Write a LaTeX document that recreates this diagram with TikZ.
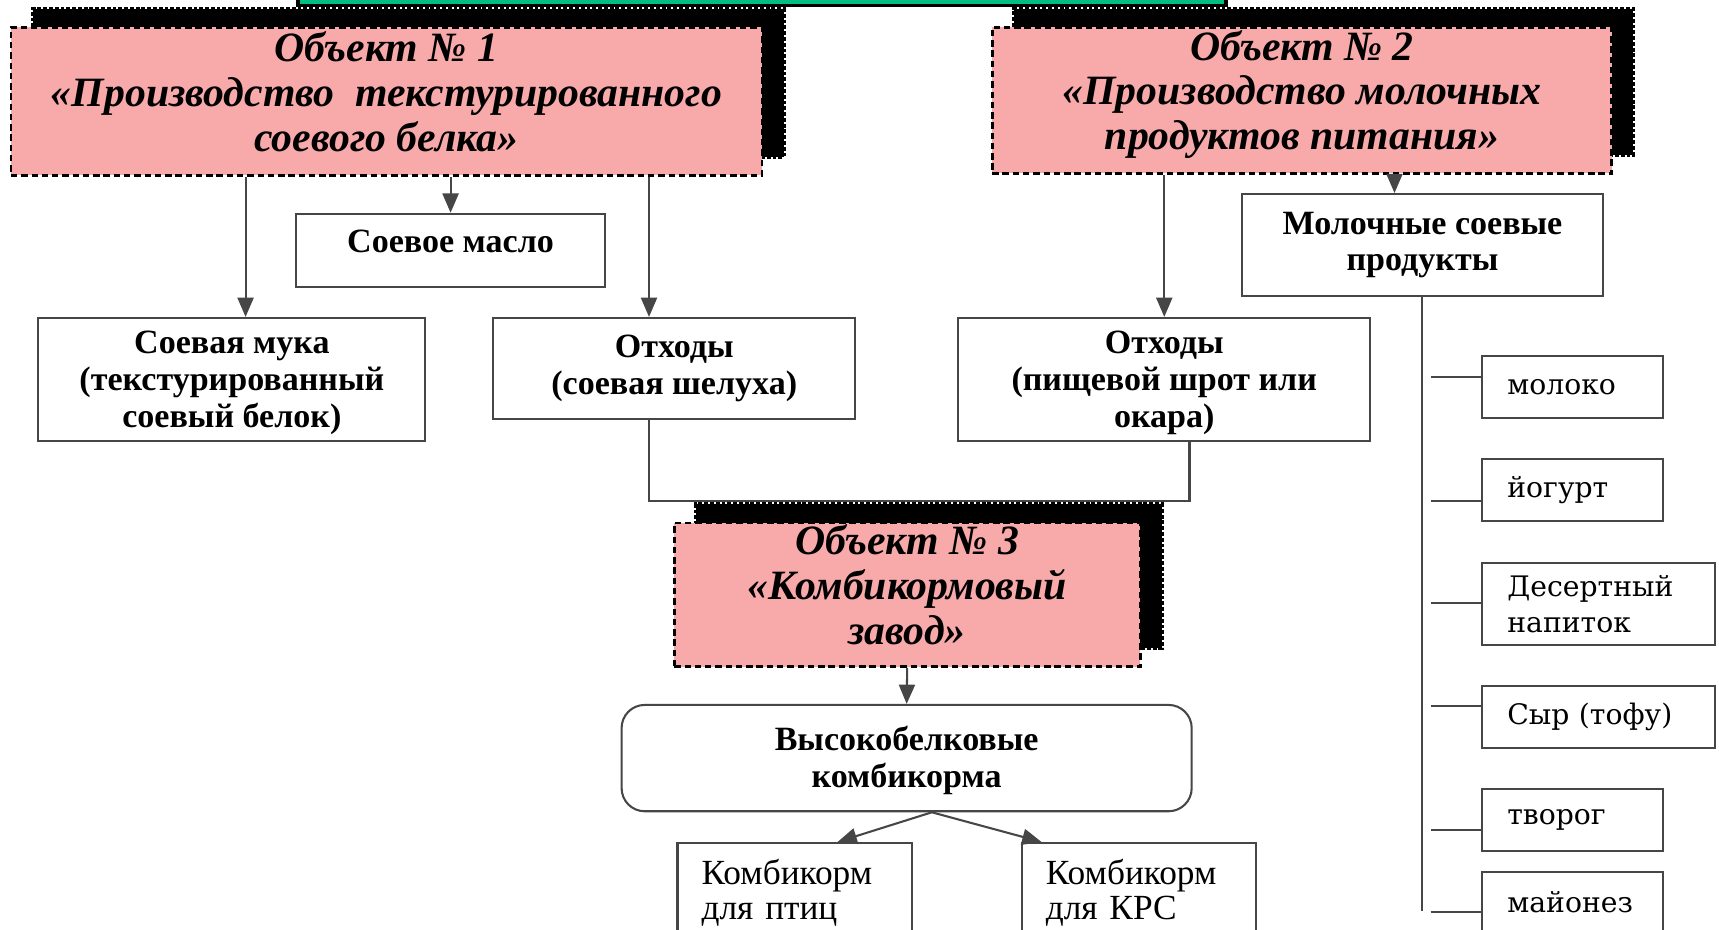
\documentclass[tikz,border=0pt]{standalone}
\usepackage{fontspec}
\setmainfont{Liberation Serif}
\newfontfamily\slabfont{DejaVu Serif}
\usetikzlibrary{arrows.meta,shadows}
\definecolor{objpink}{RGB}{248,170,170}
\definecolor{topgreen}{RGB}{0,190,130}
\definecolor{boxline}{RGB}{70,70,70}
\newlength\vpx
\setlength\vpx{0.3mm}
\tikzset{
  obj/.style={draw=black, line width=2.2pt, dash pattern=on 5pt off 3pt,
    fill=objpink, align=center, inner sep=0pt, text depth=16pt,
    font=\bfseries\itshape\fontsize{32.5}{35}\selectfont,
    drop shadow={shadow xshift=17pt, shadow yshift=14.5pt, fill=black,
      opacity=1, draw=black, line width=3pt, dash pattern=on 3pt off 1.5pt}},
  prod/.style={draw=boxline, line width=1.6pt, fill=white, align=center,
    font=\bfseries\fontsize{26.5}{28.5}\selectfont, inner sep=0pt},
  item/.style={draw=boxline, line width=1.6pt, fill=white, align=left,
    anchor=west, text width=#1, minimum height=56\vpx,
    font=\slabfont\fontsize{22}{28}\selectfont, inner xsep=23\vpx, inner ysep=0pt},
  item/.default={119\vpx},
  feedbox/.style={draw=boxline, line width=1.6pt, fill=white, align=left,
    anchor=north, text width=170\vpx, text depth=60\vpx,
    font=\fontsize{27.5}{27}\selectfont, inner xsep=22\vpx, inner ysep=15\vpx},
  link/.style={draw=boxline, line width=1.6pt},
  arr/.style={link, -{Triangle[length=15pt,width=12.5pt]}}
}
\begin{document}
\begin{tikzpicture}[x=0.3mm, y=-0.3mm]
  \path[use as bounding box, fill=white] (0,0) rectangle (1568,848);
  \clip (0,0) rectangle (1568,848);

  % coordinates to be reused
  \coordinate (a1) at (224,0);
  \coordinate (a3) at (592,0);
  \coordinate (a5) at (1272,0);
  \coordinate (a6) at (1085,0);
  \coordinate (jy) at (0,457);
  \coordinate (ap) at (850,0);
  \coordinate (b1) at (764,0);
  \coordinate (b2) at (950,0);
  \coordinate (tend) at (0,831);

  % title box, cut by the top edge
  \node[draw=black, line width=3pt, fill=topgreen, minimum width=846\vpx,
    minimum height=80\vpx] (title) at (695,-35) {};

  % objects
  \node[obj, minimum width=685\vpx, minimum height=135\vpx] (o1) at (352.5,92.5)
    {Объект № 1\\«Производство~~текстурированного\\соевого белка»};
  \node[obj, minimum width=565\vpx, minimum height=133\vpx] (o2) at (1187.5,91.5)
    {Объект № 2\\«Производство молочных\\продуктов питания»};
  \node[obj, minimum width=425\vpx, minimum height=131\vpx] (o3) at (827.5,542.5)
    {Объект № 3\\«Комбикормовый\\завод»};

  % products
  \node[prod, minimum width=282\vpx, minimum height=67\vpx, text depth=14pt] (oil)
    at (411,228.5) {Соевое масло};
  \node[prod, minimum width=353\vpx, minimum height=112\vpx, text depth=-3pt] (flour)
    at (211.5,346) {Соевая мука\\(текстурированный\\соевый белок)};
  \node[prod, minimum width=330\vpx, minimum height=92\vpx] (husk) at (615,336)
    {Отходы\\(соевая шелуха)};
  \node[prod, minimum width=329\vpx, minimum height=93\vpx] (dairy) at (1297.5,223.5)
    {Молочные соевые\\продукты};
  \node[prod, minimum width=376\vpx, minimum height=112\vpx, text depth=-3pt] (okara)
    at (1062,346) {Отходы\\(пищевой шрот или\\окара)};
  \node[prod, rounded corners=18pt, minimum width=520\vpx, minimum height=97\vpx,
    text depth=2pt] (feed) at (827,691.5) {Высокобелковые\\комбикорма};
  \node[feedbox] (poultry) at (725,768) {Комбикорм\\для птиц};
  \node[feedbox] (cattle) at (1039,768) {Комбикорм\\для КРС};

  % dairy items
  \node[item] (milk) at (1351,353) {молоко};
  \node[item] (yogurt) at (1351,447) {йогурт};
  \node[item=166\vpx, minimum height=75\vpx] (dessert) at (1351,551) {Десертный\\напиток};
  \node[item=166\vpx] (tofu) at (1351,654) {Сыр (тофу)};
  \node[item] (curd) at (1351,748) {творог};
  \node[item] (mayo) at (1351,823) {майонез};

  % connectors
  \draw[arr] (o1.south -| a1) -- (flour.north -| a1);
  \draw[arr] (o1.south -| oil.north) -- (oil.north);
  \draw[arr] (o1.south -| a3) -- (husk.north -| a3);
  \draw[arr] (o2.south -| okara.north) -- (okara.north);
  \draw[arr] (o2.south -| a5) -- (dairy.north -| a5);
  \draw[link] (husk.south -| a3) -- (a3 |- jy) -- (a6 |- jy) -- (okara.south -| a6);
  \draw[arr] (o3.south) -- (feed.north);
  \draw[arr] (feed.south -| ap) -- (poultry.north -| b1);
  \draw[arr] (feed.south -| ap) -- (cattle.north -| b2);
  \draw[link] (dairy.south) -- (dairy.south |- tend);
  \foreach \n/\y in {milk/344, yogurt/457, dessert/550, tofu/644, curd/757, mayo/832}{
    \coordinate (s\n) at (1305,\y);
    \draw[link] (s\n) -- (s\n -| \n.west);
  }
\end{tikzpicture}
\end{document}
